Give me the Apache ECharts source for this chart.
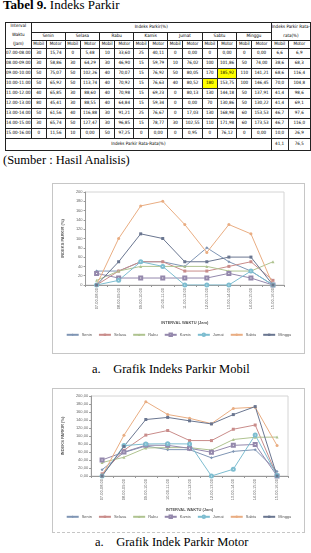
<!DOCTYPE html>
<html>
<head>
<meta charset="utf-8">
<script src="https://cdn.jsdelivr.net/npm/echarts@6/dist/echarts.min.js"></script>
<style>
  body { margin:0; width:311px; height:553px; overflow:hidden; background:#fff; position:relative; }
  .serif { font-family:"Liberation Serif", "DejaVu Serif", serif; color:#000; position:absolute; white-space:nowrap; }
  #tbl { position:absolute; left:5px; top:22px; border-collapse:collapse; table-layout:fixed;
         font-family:"Liberation Sans Narrow","DejaVu Sans Condensed",sans-serif; font-size:4.5px; line-height:4.5px; }
  #tbl td { border:1px solid #222; padding:0; text-align:center; overflow:hidden; white-space:nowrap; }
  #tbl td.hl { background:#ffff00; }
  .box { position:absolute; border:1px solid #c6c6c6; background:#fff; }
</style>
</head>
<body>
<div class="serif" style="left:3px;top:-3px;font-size:13px;"><b>Tabel 9.</b> Indeks Parkir</div>
<table id="tbl"></table>
<div class="serif" style="left:3px;top:153px;font-size:12.5px;">(Sumber : Hasil Analisis)</div>
<div id="c1" class="box" style="left:52px;top:183px;width:251px;height:169px;"></div>
<div class="serif" style="left:92px;top:362px;font-size:12.5px;">a.&nbsp;&nbsp;&nbsp;&nbsp;Grafik Indeks Parkir Mobil</div>
<div id="c2" class="box" style="left:52px;top:388px;width:251px;height:143px;border-bottom:1px dashed #c6c6c6;"></div>
<div class="serif" style="left:95px;top:535px;font-size:12.5px;">a.&nbsp;&nbsp;&nbsp;&nbsp;Grafik Indek Parkir Motor</div>
<script>
// data dibaca dari tabel / grafik
var times = ['07.00-08.00','08.00-09.00','09.00-10.00','10.00-11.00','11.00-12.00','12.00-13.00','13.00-14.00','14.00-15.00','15.00-16.00'];
var days = ['Senin','Selasa','Rabu','Kamis','Jumat','Sabtu','Minggu'];

var mobilSenin  = [30, 30, 50, 50, 40, 80, 50, 30, 0];
var mobilSelasa = [0, 30, 50, 50, 30, 30, 40, 50, 10];
var mobilRabu   = [10, 30, 40, 40, 40, 40, 30, 30, 50];
var mobilKamis  = [25, 15, 15, 15, 15, 15, 25, 15, 0];
var mobilJumat  = [0, 10, 50, 40, 0, 0, 0, 30, 0];
var mobilSabtu  = [0, 100, 170, 180, 130, 70, 130, 110, 0];
var mobilMinggu = [0, 50, 110, 100, 50, 50, 60, 60, 0];

var motorSenin  = [15.74, 58.86, 75.07, 65.92, 65.85, 45.41, 61.56, 65.74, 11.56];
var motorSelasa = [5.48, 64.29, 102.26, 113.74, 88.60, 88.55, 116.88, 127.47, 0.00];
var motorRabu   = [33.60, 46.90, 70.07, 70.92, 70.98, 64.84, 91.21, 96.85, 97.25];
var motorKamis  = [40.11, 59.79, 76.92, 76.63, 69.23, 59.34, 76.67, 78.77, 0.00];
var motorJumat  = [0.00, 76.02, 80.05, 80.52, 80.13, 0.00, 17.03, 102.55, 0.95];
var motorSabtu  = [0.00, 101.86, 185.92, 153.75, 144.18, 130.86, 168.98, 171.98, 76.12];
var motorMinggu = [0.00, 74.00, 141.21, 146.45, 137.91, 130.22, 153.53, 173.53, 0.00];

var avgMobil = [6.6, 38.6, 68.6, 70.0, 41.4, 41.4, 46.7, 46.7, 10.0];
var avgMotor = [6.9, 68.3, 116.4, 104.8, 98.6, 69.1, 97.6, 116.0, 26.9];
var avgAll = [41.1, 76.5];

var mobilData = [mobilSenin, mobilSelasa, mobilRabu, mobilKamis, mobilJumat, mobilSabtu, mobilMinggu];
var motorData = [motorSenin, motorSelasa, motorRabu, motorKamis, motorJumat, motorSabtu, motorMinggu];

var colors = ['#7f95b4', '#c98c8a', '#afc390', '#9488ac', '#7dbdd0', '#e9ad82', '#6a7690'];
var symbols = ['diamond', 'rect', 'triangle', 'emptyRect', 'emptyCircle', 'circle', 'rect'];

function fmt(v, d) { return v.toFixed(d).replace('.', ','); }

// tabel
(function () {
  var h = '<colgroup><col style="width:19px">';
  for (var i = 0; i < 7; i++) h += '<col style="width:16px"><col style="width:20.5px">';
  h += '<col style="width:15px"><col style="width:20px"></colgroup>';
  h += '<tr style="height:10px"><td rowspan="3">Interval<br><br>Waktu<br><br>(Jam)</td><td colspan="14">Indeks Parkir(%)</td><td colspan="2" rowspan="2">Indeks Parkir Rata-<br><br>rata(%)</td></tr>';
  h += '<tr style="height:8px">';
  days.forEach(function (d) { h += '<td colspan="2">' + d + '</td>'; });
  h += '</tr><tr style="height:8px">';
  for (var i = 0; i < 8; i++) h += '<td>Mobil</td><td>Motor</td>';
  h += '</tr>';
  times.forEach(function (t, r) {
    h += '<tr style="height:10px"><td>' + t + '</td>';
    for (var i = 0; i < 7; i++) {
      var hm = (i === 5 && r === 3) ? ' class="hl"' : '';
      var hk = (i === 5 && r === 2) ? ' class="hl"' : '';
      h += '<td' + hm + '>' + mobilData[i][r] + '</td><td' + hk + '>' + fmt(motorData[i][r], 2) + '</td>';
    }
    h += '<td>' + fmt(avgMobil[r], 1) + '</td><td>' + fmt(avgMotor[r], 1) + '</td></tr>';
  });
  h += '<tr style="height:12px"><td colspan="15">Indeks Parkir Rata-Rata(%)</td><td>' + fmt(avgAll[0], 1) + '</td><td>' + fmt(avgAll[1], 1) + '</td></tr>';
  document.getElementById('tbl').innerHTML = h;
})();

function makeOption(data, g, yFmt, nameGapY, nameGapX) {
  return {
    animation: false,
    color: colors,
    textStyle: { fontFamily: 'Liberation Sans, Arial, sans-serif' },
    grid: { left: g[0], right: g[1], top: g[2], bottom: g[3], show: true, borderColor: '#d4d4d4', borderWidth: 1 },
    legend: {
      bottom: g[4], left: 'center', width: 245, padding: 0,
      itemWidth: 12, itemHeight: 3, itemGap: 6,
      textStyle: { fontSize: 4, color: '#555', padding: [0, 0, 0, -2] },
      data: days
    },
    xAxis: {
      type: 'category', data: times, boundaryGap: true,
      name: 'INTERVAL WAKTU (Jam)', nameLocation: 'middle', nameGap: nameGapX,
      nameTextStyle: { fontSize: 4, fontWeight: 'bold', color: '#555' },
      axisLine: { lineStyle: { color: '#999' } },
      axisTick: { show: true, length: 2, lineStyle: { color: '#999' } },
      axisLabel: { rotate: 90, fontSize: 4, color: '#666', margin: 3, interval: 0 }
    },
    yAxis: {
      type: 'value', min: 0, max: 200, interval: 20,
      name: 'INDEKS PARKIR (%)', nameLocation: 'middle', nameGap: nameGapY,
      nameTextStyle: { fontSize: 4, fontWeight: 'bold', color: '#555' },
      axisLine: { show: true, lineStyle: { color: '#999' } },
      axisTick: { show: true, length: 2, lineStyle: { color: '#999' } },
      splitLine: { show: false },
      axisLabel: { fontSize: 4, color: '#666', margin: 3, formatter: yFmt }
    },
    series: days.map(function (d, i) {
      return {
        name: d, type: 'line', data: data[i],
        symbol: symbols[i], symbolSize: 3, showSymbol: true,
        lineStyle: { width: 1, color: colors[i] },
        itemStyle: { color: colors[i] }
      };
    })
  };
}

var myChart1 = echarts.init(document.getElementById('c1'));
myChart1.setOption(makeOption(mobilData, [18, 20, 8, 68, 16], function (v) { return v; }, 12, 36));

var myChart2 = echarts.init(document.getElementById('c2'));
myChart2.setOption(makeOption(motorData, [27, 16, 7, 56, 13], function (v) { return fmt(v, 2); }, 22, 29));
</script>
</body>
</html>
